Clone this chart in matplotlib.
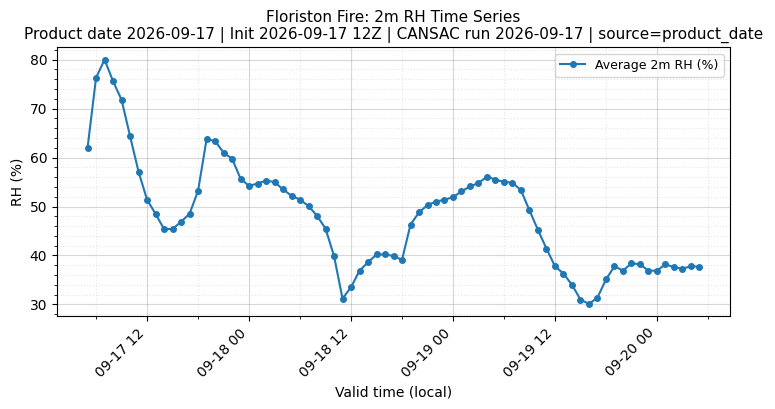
import matplotlib
matplotlib.use("Agg")
import matplotlib.pyplot as plt
import matplotlib.dates as mdates
import numpy as np
import pandas as pd

start_time = "2026-09-17 05:00"
rh_values = [
    62.0, 76.3, 80.0, 75.6, 71.8, 64.4, 57.1, 51.4, 48.5, 45.4,
    45.4, 46.9, 48.5, 53.2, 63.7, 63.4, 61.0, 59.8, 55.7, 54.2,
    54.7, 55.3, 55.0, 53.5, 52.2, 51.4, 50.1, 48.1, 45.5, 39.9,
    31.2, 33.5, 36.9, 38.6, 40.2, 40.2, 39.9, 39.1, 46.3, 48.8,
    50.3, 51.0, 51.4, 51.9, 53.1, 54.1, 54.8, 56.1, 55.5, 55.0,
    54.9, 53.3, 49.2, 45.2, 41.4, 37.8, 36.3, 34.0, 31.0, 30.1,
    31.4, 35.1, 37.8, 36.9, 38.4, 38.2, 36.9, 36.9, 38.2, 37.6,
    37.3, 37.8, 37.7,
]
times = pd.date_range(start_time, periods=len(rh_values), freq="h")

title = ("Floriston Fire: 2m RH Time Series\n"
         "Product date 2026-09-17 | Init 2026-09-17 12Z | CANSAC run 2026-09-17 | source=product_date")

fig, ax = plt.subplots(figsize=(7.75, 4.09), dpi=100)
ax.plot(times, rh_values, marker="o", markersize=4, linewidth=1.5,
        color="#1f77b4", label="Average 2m RH (%)")
ax.set_title(title, fontsize=11)
ax.set_xlabel("Valid time (local)")
ax.set_ylabel("RH (%)")
ax.xaxis.set_major_locator(mdates.HourLocator(byhour=[0, 12]))
ax.xaxis.set_minor_locator(mdates.HourLocator(byhour=[6, 18]))
ax.xaxis.set_major_formatter(mdates.DateFormatter("%m-%d %H"))
ax.yaxis.set_minor_locator(matplotlib.ticker.MultipleLocator(2))
ax.grid(True, which="major", alpha=0.5)
ax.grid(True, which="minor", linestyle=":", alpha=0.3)
plt.setp(ax.get_xticklabels(), rotation=45, ha="right")
ax.legend(loc="upper right", fontsize=9)
fig.subplots_adjust(left=0.0735, right=0.942, top=0.884, bottom=0.227)
fig.savefig("out.png", dpi=100)
